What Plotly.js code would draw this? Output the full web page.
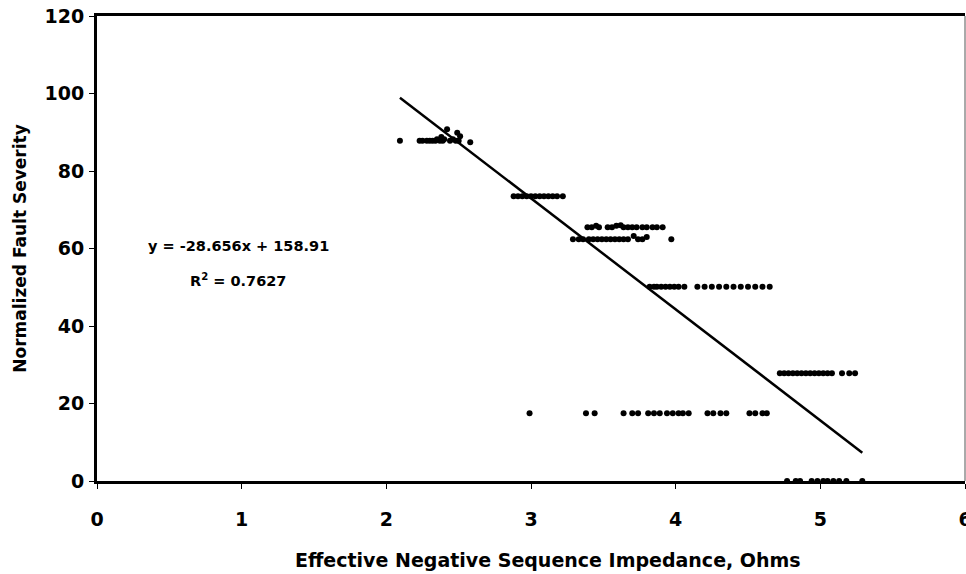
<!DOCTYPE html>
<html>
<head>
<meta charset="utf-8">
<script src="https://cdn.plot.ly/plotly-3.0.1.min.js"></script>
<style>html,body{margin:0;padding:0;background:#fff;}#chart{width:966px;height:574px;}</style>
</head>
<body>
<div id="chart"></div>
<script>
// Measured points (impedance in ohms, normalized fault severity)
const impedance = [
  2.094, 2.23, 2.25, 2.28, 2.30, 2.32, 2.34, 2.35, 2.37, 2.38, 2.39, 2.40, 2.42, 2.44, 2.46, 2.48, 2.49, 2.50, 2.51, 2.58,
  2.88, 2.91, 2.94, 2.97, 3.00, 3.03, 3.06, 3.09, 3.12, 3.15, 3.18, 3.22,
  3.39, 3.42, 3.45, 3.47, 3.53, 3.56, 3.59, 3.62, 3.64, 3.67, 3.70, 3.73, 3.77, 3.80, 3.84, 3.87, 3.91,
  3.29, 3.33, 3.36, 3.40, 3.43, 3.46, 3.49, 3.52, 3.55, 3.58, 3.61, 3.64, 3.67, 3.71, 3.74, 3.77, 3.80, 3.97,
  3.82, 3.85, 3.87, 3.90, 3.93, 3.96, 3.99, 4.02, 4.06, 4.15, 4.20, 4.25, 4.30, 4.35, 4.40, 4.45, 4.50, 4.55, 4.60, 4.65,
  4.72, 4.75, 4.78, 4.81, 4.84, 4.87, 4.90, 4.93, 4.96, 4.99, 5.02, 5.05, 5.08, 5.15, 5.20, 5.24,
  2.99, 3.38, 3.44, 3.64, 3.70, 3.74, 3.81, 3.85, 3.89, 3.94, 3.98, 4.02, 4.05, 4.09, 4.22, 4.26, 4.31, 4.35, 4.51, 4.55, 4.60, 4.63,
  4.77, 4.83, 4.86, 4.94, 4.98, 5.02, 5.05, 5.09, 5.13, 5.18, 5.29
];
const severity = [
  87.8, 87.8, 87.8, 87.8, 87.8, 87.8, 87.8, 88.2, 87.8, 88.8, 87.8, 88.2, 90.8, 87.8, 88.2, 87.8, 89.9, 87.8, 89.0, 87.4,
  73.5, 73.5, 73.5, 73.5, 73.5, 73.5, 73.5, 73.5, 73.5, 73.5, 73.5, 73.5,
  65.5, 65.5, 65.9, 65.5, 65.5, 65.5, 65.9, 66.0, 65.5, 65.5, 65.5, 65.5, 65.5, 65.5, 65.5, 65.5, 65.5,
  62.4, 62.4, 62.4, 62.4, 62.4, 62.4, 62.4, 62.4, 62.4, 62.4, 62.4, 62.4, 62.4, 63.2, 62.4, 62.4, 63.0, 62.4,
  50.1, 50.1, 50.1, 50.1, 50.1, 50.1, 50.1, 50.1, 50.1, 50.1, 50.1, 50.1, 50.1, 50.1, 50.1, 50.1, 50.1, 50.1, 50.1, 50.1,
  27.8, 27.8, 27.8, 27.8, 27.8, 27.8, 27.8, 27.8, 27.8, 27.8, 27.8, 27.8, 27.8, 27.8, 27.8, 27.8,
  17.5, 17.5, 17.5, 17.5, 17.5, 17.5, 17.5, 17.5, 17.5, 17.5, 17.5, 17.5, 17.5, 17.5, 17.5, 17.5, 17.5, 17.5, 17.5, 17.5, 17.5, 17.5,
  0, 0, 0, 0, 0, 0, 0, 0, 0, 0, 0
];
// Linear trendline as reported on the chart
const slope = -28.656;
const intercept = 158.91;
const rSquared = 0.7627;

const xTickVals = [0, 1, 2, 3, 4, 5, 6];
const yTickVals = [0, 20, 40, 60, 80, 100, 120];
const xTitle = 'Effective Negative Sequence Impedance, Ohms';
const yTitle = 'Normalized Fault Severity';

const xMin = Math.min(...impedance), xMax = Math.max(...impedance);
const trendX = [xMin, xMax];
const trendY = trendX.map(v => slope * v + intercept);

const FONT = 'DejaVu Sans, Verdana, sans-serif';
const bold = s => '<b>' + s + '</b>';

const traces = [
  {
    x: impedance, y: severity, type: 'scatter', mode: 'markers',
    marker: {color: '#000', size: 6}, cliponaxis: false, showlegend: false, hoverinfo: 'x+y'
  },
  {
    x: trendX, y: trendY, type: 'scatter', mode: 'lines',
    line: {color: '#000', width: 2.5}, showlegend: false, hoverinfo: 'skip'
  }
];

const layout = {
  width: 966, height: 574,
  margin: {l: 97, r: 1, t: 16, b: 93},
  paper_bgcolor: '#fff', plot_bgcolor: '#fff',
  font: {family: FONT, color: '#000'},
  showlegend: false,
  xaxis: {
    range: [0, 6], tickvals: xTickVals, ticktext: xTickVals.map(v => bold(v)),
    showgrid: false, zeroline: false,
    showline: true, linecolor: '#000', linewidth: 3, mirror: true,
    ticks: 'outside', ticklen: 5, tickcolor: '#000', tickwidth: 1,
    ticklabelstandoff: 14, ticklabeloverflow: 'allow',
    tickfont: {family: FONT, size: 19, color: '#000'}
  },
  yaxis: {
    range: [0, 120], tickvals: yTickVals, ticktext: yTickVals.map(v => bold(v)),
    showgrid: false, zeroline: false,
    showline: true, linecolor: '#000', linewidth: 3,
    ticks: 'outside', ticklen: 5, tickcolor: '#000', tickwidth: 1,
    ticklabelstandoff: 1,
    tickfont: {family: FONT, size: 19, color: '#000'},
    title: {text: bold(yTitle), standoff: 14,
            font: {family: FONT, size: 17, color: '#000'}}
  },
  shapes: [
    {type: 'line', xref: 'paper', yref: 'paper', x0: 1, x1: 1, y0: 0, y1: 1,
     line: {color: '#555', width: 1}}
  ],
  annotations: [
    {xref: 'paper', yref: 'paper', x: 0.5196, y: -0.17, yanchor: 'middle', showarrow: false,
     text: bold(xTitle), font: {family: FONT, size: 19, color: '#000'}},
    {xref: 'x', yref: 'y', x: 0.975, y: 60.6, showarrow: false,
     text: bold('y = ' + slope + 'x + ' + intercept),
     font: {family: FONT, size: 14.5, color: '#000'}},
    {xref: 'x', yref: 'y', x: 0.978, y: 51.9, showarrow: false,
     text: bold('R<sup>2</sup> = ' + rSquared),
     font: {family: FONT, size: 14.5, color: '#000'}}
  ]
};

Plotly.newPlot('chart', traces, layout, {displayModeBar: false, staticPlot: true});
</script>
</body>
</html>
